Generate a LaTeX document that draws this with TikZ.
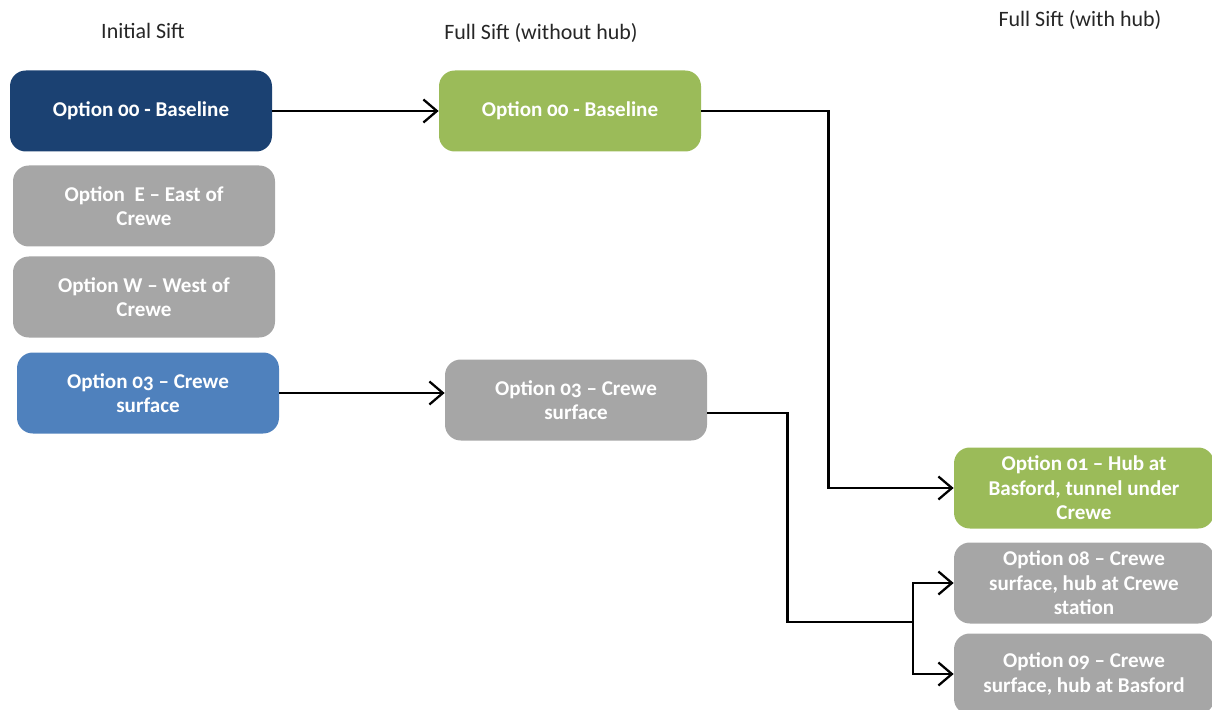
\documentclass[tikz,border=0pt]{standalone}
\usepackage{fontspec}
\setmainfont{Carlito}[Numbers=OldStyle]
\usepackage{xcolor}
\usetikzlibrary{arrows.meta}

\definecolor{navyopt}{HTML}{1B4172}
\definecolor{blueopt}{HTML}{4F81BD}
\definecolor{greenopt}{HTML}{9BBB59}
\definecolor{greyopt}{HTML}{A6A6A6}

\tikzset{
  opt/.style={rounded corners=9pt, minimum width=262*0.02cm, minimum height=81*0.02cm,
    align=center, text=white, font=\fontsize{12}{14}\selectfont\bfseries, inner sep=0pt},
  title/.style={font=\fontsize{12.5}{15}\selectfont, text=black!85},
  arr/.style={line width=1.3pt, -{Straight Barb[length=0.27cm, width=0.46cm, line width=1.3pt]}},
  link/.style={line width=1.3pt}
}

\begin{document}
\begin{tikzpicture}[x=0.02cm, y=-0.02cm]
\useasboundingbox (0,0) rectangle (1212,709);
% column titles
\node[title] (t1) at (143,31) {Initial Sift};
\node[title] (t2) at (541,33) {Full Sift (without hub)};
\node[title] (t3) at (1080,20) {Full Sift (with hub)};
% initial sift
\node[opt, fill=navyopt] (a00) at (141,111) {Option 00 - Baseline};
\node[opt, fill=greyopt] (aE) at (144,206) {Option \ E -- East of\\Crewe};
\node[opt, fill=greyopt] (aW) at (144,297) {Option W -- West of\\Crewe};
\node[opt, fill=blueopt] (a03) at (148,393) {Option 03 -- Crewe\\surface};
% full sift without hub
\node[opt, fill=greenopt] (b00) at (570,111) {Option 00 - Baseline};
\node[opt, fill=greyopt] (b03) at (576,400) {Option 03 -- Crewe\\surface};
% full sift with hub
\node[opt, fill=greenopt, minimum width=260*0.02cm] (c01) at (1084,488) {Option 01 -- Hub at\\Basford, tunnel under\\Crewe};
\node[opt, fill=greyopt, minimum width=260*0.02cm] (c08) at (1084,583) {Option 08 -- Crewe\\surface, hub at Crewe\\station};
\node[opt, fill=greyopt, minimum width=260*0.02cm] (c09) at (1084,674) {Option 09 -- Crewe\\surface, hub at Basford};
\coordinate (fork) at (913,622);
% connectors
\draw[arr] (a00.east) -- (b00.west);
\draw[arr] (a03.east) -- (a03.east -| b03.west);
\draw[arr] (b00.east) -- ++(127,0) |- (c01.west);
\draw[link] ([yshift=-0.26cm]b03.east) -- ++(80,0) |- (fork);
\draw[arr] (fork) |- (c08.west);
\draw[arr] (fork) |- (c09.west);
\end{tikzpicture}
\end{document}
